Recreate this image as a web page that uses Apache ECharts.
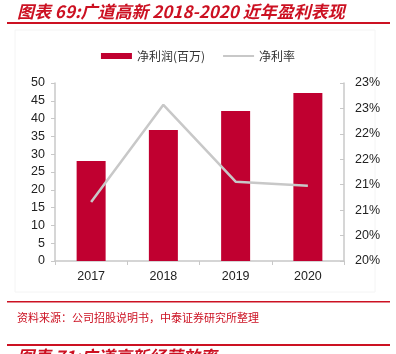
<!DOCTYPE html>
<html>
<head>
<meta charset="utf-8">
<script src="https://cdn.jsdelivr.net/npm/echarts@6/dist/echarts.min.js"></script>
<style>
  html, body { margin: 0; padding: 0; background: #fff; }
  #chart { width: 396px; height: 354px; }
</style>
</head>
<body>
<div id="chart"></div>
<script>
// 数据
const years = ['2017', '2018', '2019', '2020']
const netProfit = [28.1, 36.8, 42.1, 47.2]      // 净利润(百万)
const netMargin = [21.16, 23.07, 21.56, 21.48]  // 净利率 %

const red = '#c00030'
const titleRed = '#cc1122'
const cjk = '"Noto Sans CJK SC", sans-serif'

const chart = echarts.init(document.getElementById('chart'))
chart.setOption({
  animation: false,
  textStyle: { fontFamily: 'Liberation Sans, Arial, sans-serif' },
  grid: { left: 55, right: 52, top: 83, bottom: 93 },
  legend: {
    top: 45,
    left: 'center',
    itemGap: 18,
    itemWidth: 31,
    itemHeight: 6,
    textStyle: { fontFamily: cjk, fontSize: 12, color: '#333' },
    data: [
      { name: '净利润(百万)', icon: 'rect' },
      { name: '净利率', icon: 'path://M0,0 L31,0 L31,2 L0,2 Z', itemStyle: { color: '#c8c8c8' } }
    ]
  },
  xAxis: {
    type: 'category',
    data: years,
    axisLine: { lineStyle: { color: '#c8c8c8', width: 1.5 } },
    axisTick: { show: true, length: 4, lineStyle: { color: '#c8c8c8' } },
    axisLabel: { color: '#222', fontSize: 12.5, margin: 9 }
  },
  yAxis: [
    {
      type: 'value',
      min: 0, max: 50, interval: 5,
      axisLine: { show: true, lineStyle: { color: '#c8c8c8', width: 1.5 } },
      axisTick: { show: true, length: 4, lineStyle: { color: '#c8c8c8' } },
      splitLine: { show: false },
      axisLabel: { color: '#222', fontSize: 12.5, margin: 10 }
    },
    {
      type: 'value',
      min: 20, max: 23.5, interval: 0.5,
      axisLine: { show: true, lineStyle: { color: '#c8c8c8', width: 1.5 } },
      axisTick: { show: true, inside: true, length: 4, lineStyle: { color: '#c8c8c8' } },
      splitLine: { show: false },
      axisLabel: {
        color: '#222', fontSize: 12.5, margin: 11,
        formatter: v => Math.floor(v + 1e-9) + '%'
      }
    }
  ],
  series: [
    {
      name: '净利润(百万)',
      type: 'bar',
      data: netProfit,
      barWidth: 29,
      itemStyle: { color: red }
    },
    {
      name: '净利率',
      type: 'line',
      yAxisIndex: 1,
      data: netMargin,
      symbol: 'none',
      lineStyle: { color: '#c8c8c8', width: 2.5 },
      itemStyle: { color: '#c8c8c8' }
    }
  ],
  graphic: [
    {
      type: 'text', left: 17, top: 3,
      style: {
        text: '图表 69:广道高新 2018-2020 近年盈利表现',
        font: 'italic bold 17px "Noto Sans CJK SC", sans-serif',
        fill: titleRed
      }
    },
    { type: 'rect', shape: { x: 7, y: 22, width: 383, height: 2 }, style: { fill: titleRed } },
    { type: 'rect', shape: { x: 15, y: 30, width: 360, height: 262 }, style: { fill: 'none', stroke: '#f4f4f4', lineWidth: 1 }, z: -1 },
    { type: 'rect', shape: { x: 7, y: 301, width: 383, height: 1.5 }, style: { fill: titleRed } },
    {
      type: 'text', left: 17, top: 312,
      style: {
        text: '资料来源：公司招股说明书，中泰证券研究所整理',
        font: '11px "Noto Sans CJK SC", sans-serif',
        fill: titleRed
      }
    },
    { type: 'rect', shape: { x: 7, y: 344, width: 383, height: 2 }, style: { fill: titleRed } },
    {
      type: 'text', left: 17, top: 348,
      style: {
        text: '图表 71:广道高新经营效率',
        font: 'italic bold 17px "Noto Sans CJK SC", sans-serif',
        fill: titleRed
      }
    }
  ]
})
</script>
</body>
</html>
